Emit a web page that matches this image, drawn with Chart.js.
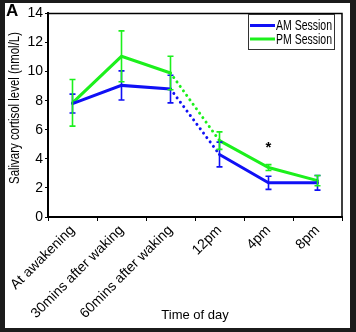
<!DOCTYPE html>
<html>
<head>
<meta charset="utf-8">
<script src="https://cdn.jsdelivr.net/npm/chart.js@4"></script>
<style>
  body { margin: 0; background: #1b1b1b; width: 356px; height: 332px; overflow: hidden; }
  #wrap { position: absolute; left: 5px; top: 3px; width: 345px; height: 325px; background: #fff; }
</style>
</head>
<body>
<div id="wrap"><canvas id="chart" width="345" height="325"></canvas></div>
<script>
const timeLabels = ["At awakening", "30mins after waking", "60mins after waking", "12pm", "4pm", "8pm"];
const amMeans = [7.8, 9.05, 8.8, 4.3, 2.35, 2.35];
const amErr = [0.65, 1.0, 0.95, 0.85, 0.45, 0.5];
const pmMeans = [7.85, 11.05, 9.9, 5.25, 3.4, 2.5];
const pmErr = [1.6, 1.75, 1.15, 0.6, 0.2, 0.35];
const sigIndex = 4; // "*" over 4pm
const sigValue = 4.75;
const yTitle = "Salivary cortisol level (nmol/L)";

const blue = "#1010f5";
const green = "#1cf01c";
const fontFam = "'Liberation Sans', Arial, sans-serif";

// dotted between 60mins and 12pm
const dotted = (ctx) => (ctx.p0DataIndex === 2 ? [0.01, 5.5] : undefined);

const errorBars = {
  id: "errorBars",
  afterDatasetsDraw(chart) {
    const c = chart.ctx;
    const y = chart.scales.y;
    chart.data.datasets.forEach((ds, di) => {
      const meta = chart.getDatasetMeta(di);
      c.save();
      c.strokeStyle = ds.borderColor;
      c.lineWidth = 1.6;
      meta.data.forEach((pt, i) => {
        const top = y.getPixelForValue(ds.data[i] + ds.err[i]);
        const bot = y.getPixelForValue(ds.data[i] - ds.err[i]);
        c.beginPath();
        c.moveTo(pt.x, top); c.lineTo(pt.x, bot);
        c.moveTo(pt.x - 3, top); c.lineTo(pt.x + 3, top);
        c.moveTo(pt.x - 3, bot); c.lineTo(pt.x + 3, bot);
        c.stroke();
      });
      c.restore();
    });
  },
};

const extras = {
  id: "extras",
  afterDraw(chart) {
    const c = chart.ctx;
    const a = chart.chartArea;
    c.save();
    // frame
    c.strokeStyle = "#000";
    c.lineWidth = 1.5;
    c.beginPath();
    c.moveTo(a.left, a.top); c.lineTo(a.right, a.top); c.lineTo(a.right, a.bottom);
    c.stroke();
    // panel letter
    c.fillStyle = "#000";
    c.font = "bold 17px " + fontFam;
    c.textBaseline = "top";
    c.fillText("A", 1, 0);
    // y axis title (squeezed to match the narrow original face)
    c.save();
    c.translate(10, 105);
    c.rotate(-Math.PI / 2);
    c.font = "14px " + fontFam;
    c.textAlign = "center";
    c.textBaseline = "middle";
    c.fillText(yTitle, 0, 0, 152);
    c.restore();
    // significance mark
    c.font = "bold 15px " + fontFam;
    c.textAlign = "center";
    c.textBaseline = "middle";
    c.fillText("*", chart.scales.x.getPixelForValue(sigIndex), chart.scales.y.getPixelForValue(sigValue));
    // legend
    const lx = 243, ly = 11, lw = 86, lh = 35;
    c.lineWidth = 1;
    c.strokeStyle = "#333";
    c.strokeRect(lx + 0.5, ly + 0.5, lw, lh);
    c.font = "14px " + fontFam;
    c.textAlign = "left";
    chart.data.datasets.forEach((ds, i) => {
      const yy = ly + 11.5 + i * 13.5;
      c.strokeStyle = ds.borderColor;
      c.lineWidth = 3;
      c.beginPath(); c.moveTo(lx + 2, yy); c.lineTo(lx + 27, yy); c.stroke();
      c.fillStyle = "#000";
      c.fillText(ds.label, lx + 28, yy + 1, 56);
    });
    c.restore();
  },
};

new Chart(document.getElementById("chart"), {
  type: "line",
  data: {
    labels: timeLabels,
    datasets: [
      { label: "AM Session", data: amMeans, err: amErr, borderColor: blue, backgroundColor: blue,
        borderWidth: 3, pointRadius: 0, tension: 0, borderCapStyle: "round",
        segment: { borderDash: dotted } },
      { label: "PM Session", data: pmMeans, err: pmErr, borderColor: green, backgroundColor: green,
        borderWidth: 3, pointRadius: 0, tension: 0, borderCapStyle: "round",
        segment: { borderDash: dotted } },
    ],
  },
  options: {
    responsive: false,
    animation: false,
    devicePixelRatio: 1,
    layout: { padding: { top: 7, right: 8, left: 0, bottom: 0 } },
    plugins: { legend: { display: false }, tooltip: { enabled: false } },
    scales: {
      x: {
        offset: true,
        grid: { drawOnChartArea: false, drawTicks: true, tickLength: 4, color: "#000", offset: true },
        border: { color: "#000", width: 2 },
        ticks: { color: "#000", font: { size: 14, family: fontFam }, maxRotation: 45, minRotation: 45, padding: 1 },
        title: { display: true, text: "Time of day", color: "#000", font: { size: 13, family: fontFam }, padding: { top: 0, bottom: 5 } },
        afterFit: (s) => { s.height = 111; },
      },
      y: {
        min: 0,
        max: 14,
        ticks: { stepSize: 2, color: "#000", font: { size: 14, family: fontFam }, padding: 2 },
        grid: { drawOnChartArea: false, drawTicks: true, tickLength: 3, color: "#000" },
        border: { color: "#000", width: 2 },
        title: { display: false },
        afterFit: (s) => { s.width = 43; },
      },
    },
  },
  plugins: [errorBars, extras],
});
</script>
</body>
</html>
